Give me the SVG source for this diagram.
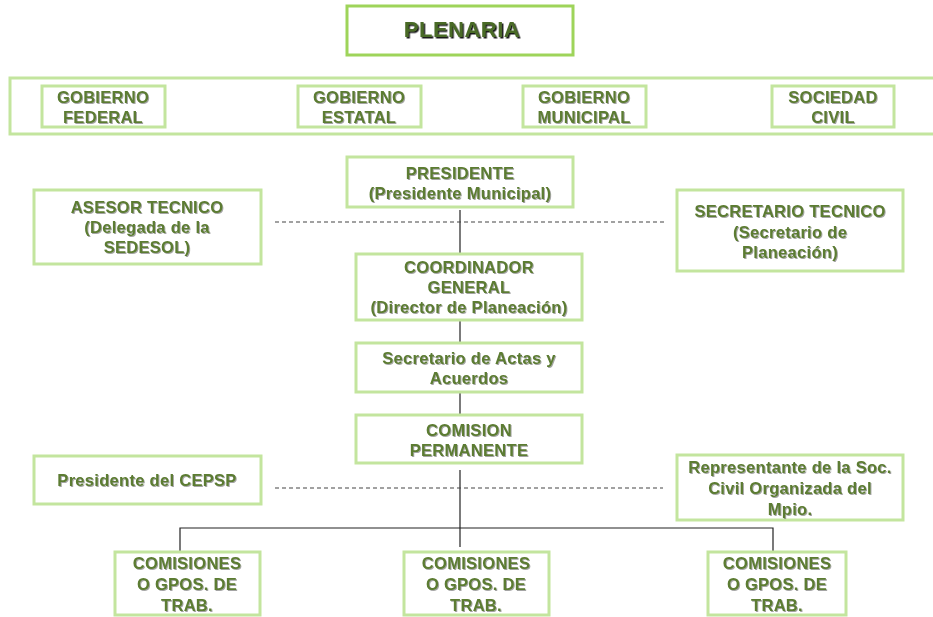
<svg xmlns="http://www.w3.org/2000/svg" width="933" height="617" viewBox="0 0 933 617">
<defs>
<filter id="sh" x="-10%" y="-30%" width="120%" height="160%">
<feDropShadow dx="1" dy="1" stdDeviation="0.4" flood-color="#333" flood-opacity="0.45"/>
</filter>
<filter id="sh2" x="-10%" y="-30%" width="120%" height="160%">
<feDropShadow dx="1.5" dy="1.5" stdDeviation="0.3" flood-color="#000" flood-opacity="0.9"/>
</filter>
</defs>
<style>
.b{fill:#fff;stroke:#c3e59e;stroke-width:3}
.b2{fill:#fff;stroke:#9ed45a;stroke-width:3}
.t{font-family:"Liberation Sans",Arial,sans-serif;font-weight:bold;font-size:16.5px;letter-spacing:0.3px;fill:#5b7b31;text-anchor:middle;filter:url(#sh)}
.p{font-family:"Liberation Sans",Arial,sans-serif;font-weight:bold;font-size:22px;letter-spacing:0.5px;fill:#4a6b28;text-anchor:middle;filter:url(#sh2)}
.c{stroke:#222;stroke-width:1.2;fill:none}
.d{stroke:#444;stroke-width:1.2;fill:none;stroke-dasharray:4 3}
</style>
<g id="connectors">
<line class="c" x1="460" y1="210" x2="460" y2="253"/>
<line class="c" x1="460" y1="321" x2="460" y2="343"/>
<line class="c" x1="460" y1="393" x2="460" y2="415"/>
<line class="c" x1="460" y1="470" x2="460" y2="547"/>
<polyline class="c" points="180,552 180,528 773,528 773,552"/>
<line class="d" x1="275" y1="222" x2="666" y2="222"/>
<line class="d" x1="275" y1="488" x2="663" y2="488"/>
</g>
<g id="plenaria">
<rect class="b2" x="347" y="6" width="226" height="49"/>
<text class="p" x="462" y="37">PLENARIA</text>
</g>
<g id="band">
<rect class="b" x="10" y="78" width="930" height="56"/>
</g>
<g id="gob-federal">
<rect class="b" x="42" y="86" width="123" height="41"/>
<text class="t" x="103" y="103">GOBIERNO</text>
<text class="t" x="103" y="123">FEDERAL</text>
</g>
<g id="gob-estatal">
<rect class="b" x="298" y="86" width="123" height="41"/>
<text class="t" x="359" y="103">GOBIERNO</text>
<text class="t" x="359" y="123">ESTATAL</text>
</g>
<g id="gob-municipal">
<rect class="b" x="523" y="86" width="123" height="41"/>
<text class="t" x="584" y="103">GOBIERNO</text>
<text class="t" x="584" y="123">MUNICIPAL</text>
</g>
<g id="sociedad-civil">
<rect class="b" x="772" y="86" width="122" height="41"/>
<text class="t" x="833" y="103">SOCIEDAD</text>
<text class="t" x="833" y="123">CIVIL</text>
</g>
<g id="presidente">
<rect class="b" x="347" y="157" width="226" height="50"/>
<text class="t" x="460" y="179">PRESIDENTE</text>
<text class="t" x="460" y="199">(Presidente Municipal)</text>
</g>
<g id="asesor">
<rect class="b" x="34" y="190" width="227" height="74"/>
<text class="t" x="147" y="213">ASESOR TECNICO</text>
<text class="t" x="147" y="233">(Delegada de la</text>
<text class="t" x="147" y="253">SEDESOL)</text>
</g>
<g id="secretario-tecnico">
<rect class="b" x="677" y="190" width="226" height="81"/>
<text class="t" x="790" y="217">SECRETARIO TECNICO</text>
<text class="t" x="790" y="238">(Secretario de</text>
<text class="t" x="790" y="258">Planeación)</text>
</g>
<g id="coordinador">
<rect class="b" x="356" y="254" width="226" height="66"/>
<text class="t" x="469" y="273">COORDINADOR</text>
<text class="t" x="469" y="293">GENERAL</text>
<text class="t" x="469" y="313">(Director de Planeación)</text>
</g>
<g id="secretario-actas">
<rect class="b" x="356" y="343" width="226" height="49"/>
<text class="t" x="469" y="364">Secretario de Actas y</text>
<text class="t" x="469" y="384">Acuerdos</text>
</g>
<g id="comision">
<rect class="b" x="356" y="415" width="226" height="48"/>
<text class="t" x="469" y="436">COMISION</text>
<text class="t" x="469" y="456">PERMANENTE</text>
</g>
<g id="cepsp">
<rect class="b" x="34" y="456" width="227" height="48"/>
<text class="t" x="147" y="486">Presidente del CEPSP</text>
</g>
<g id="representante">
<rect class="b" x="677" y="455" width="226" height="65"/>
<text class="t" x="790" y="473">Representante de la Soc.</text>
<text class="t" x="790" y="494">Civil Organizada del</text>
<text class="t" x="790" y="515">Mpio.</text>
</g>
<g id="comisiones-1">
<rect class="b" x="115" y="552" width="145" height="63"/>
<text class="t" x="187" y="569">COMISIONES</text>
<text class="t" x="187" y="590">O GPOS. DE</text>
<text class="t" x="187" y="611">TRAB.</text>
</g>
<g id="comisiones-2">
<rect class="b" x="404" y="552" width="145" height="63"/>
<text class="t" x="476" y="569">COMISIONES</text>
<text class="t" x="476" y="590">O GPOS. DE</text>
<text class="t" x="476" y="611">TRAB.</text>
</g>
<g id="comisiones-3">
<rect class="b" x="708" y="552" width="138" height="63"/>
<text class="t" x="777" y="569">COMISIONES</text>
<text class="t" x="777" y="590">O GPOS. DE</text>
<text class="t" x="777" y="611">TRAB.</text>
</g>
</svg>
